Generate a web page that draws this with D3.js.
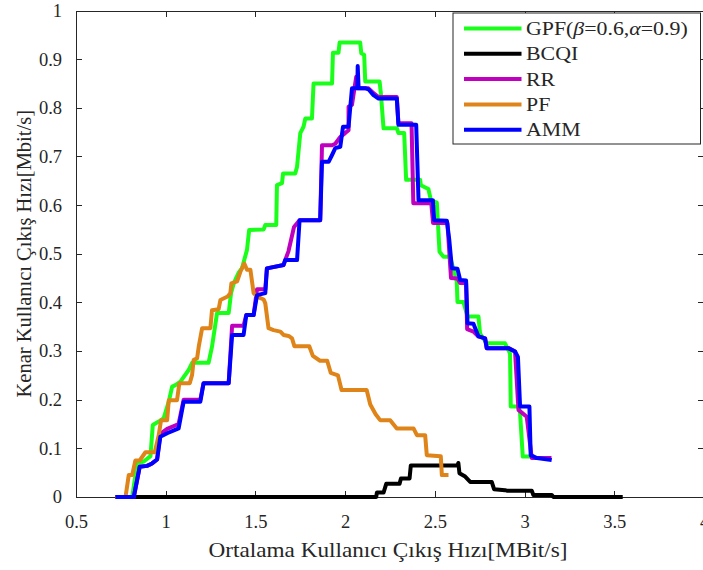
<!DOCTYPE html>
<html lang="tr">
<head>
  <meta charset="utf-8">
  <script src="https://d3js.org/d3.v7.min.js"></script>
  <style>
    body { margin: 0; background: #fff; }
    svg text { font-family: "Liberation Serif", "Times New Roman", serif; fill: #262626; }
    .axis path, .axis line { stroke: #262626; shape-rendering: crispEdges; }
  </style>
</head>
<body>
<svg id="chart" width="703" height="570"></svg>

<script>
  // Curves: [x, y] pairs
  const gpf = [[0.72,0],[0.813,0],[0.841,0.069],[0.878,0.073],[0.915,0.084],[0.928,0.148],[0.961,0.155],[0.989,0.162],[1.017,0.196],[1.036,0.227],[1.054,0.23],[1.082,0.237],[1.128,0.261],[1.147,0.276],[1.239,0.276],[1.258,0.309],[1.286,0.378],[1.351,0.378],[1.364,0.419],[1.379,0.439],[1.406,0.461],[1.425,0.47],[1.453,0.508],[1.465,0.549],[1.546,0.55],[1.555,0.559],[1.616,0.559],[1.62,0.641],[1.648,0.645],[1.654,0.665],[1.722,0.665],[1.732,0.679],[1.75,0.748],[1.768,0.761],[1.778,0.778],[1.815,0.778],[1.824,0.85],[1.927,0.85],[1.932,0.913],[1.963,0.913],[1.969,0.934],[2.084,0.934],[2.09,0.912],[2.106,0.909],[2.112,0.854],[2.192,0.854],[2.199,0.83],[2.214,0.758],[2.288,0.758],[2.297,0.748],[2.329,0.748],[2.34,0.652],[2.418,0.652],[2.422,0.641],[2.464,0.633],[2.478,0.61],[2.511,0.605],[2.526,0.504],[2.548,0.494],[2.585,0.494],[2.622,0.443],[2.626,0.401],[2.659,0.401],[2.682,0.371],[2.743,0.371],[2.752,0.336],[2.789,0.316],[2.891,0.316],[2.919,0.295],[2.923,0.186],[2.966,0.186],[2.975,0.172],[2.99,0.083],[3.031,0.083]];

  const bcqi = [[0.72,0],[2.173,0],[2.177,0.009],[2.214,0.009],[2.229,0.027],[2.303,0.027],[2.311,0.038],[2.359,0.038],[2.366,0.065],[2.626,0.065],[2.631,0.07],[2.637,0.049],[2.669,0.042],[2.697,0.031],[2.817,0.031],[2.83,0.016],[2.891,0.014],[2.901,0.013],[3.04,0.013],[3.049,0.004],[3.152,0.004],[3.161,0],[3.547,0]];

  const rr = [[0.72,0],[0.822,0],[0.855,0.062],[0.896,0.064],[0.924,0.069],[0.952,0.077],[0.97,0.13],[1.008,0.14],[1.072,0.15],[1.1,0.2],[1.193,0.2],[1.211,0.234],[1.351,0.234],[1.37,0.352],[1.434,0.352],[1.449,0.374],[1.49,0.374],[1.509,0.427],[1.555,0.427],[1.564,0.47],[1.657,0.477],[1.666,0.487],[1.684,0.505],[1.715,0.555],[1.746,0.569],[1.861,0.569],[1.871,0.723],[1.927,0.723],[1.945,0.726],[1.973,0.74],[2.0,0.748],[2.019,0.754],[2.019,0.802],[2.038,0.806],[2.062,0.864],[2.069,0.84],[2.115,0.84],[2.13,0.84],[2.158,0.83],[2.186,0.822],[2.288,0.822],[2.297,0.768],[2.37,0.768],[2.38,0.604],[2.48,0.604],[2.49,0.563],[2.57,0.563],[2.59,0.45],[2.626,0.449],[2.641,0.44],[2.674,0.44],[2.68,0.345],[2.715,0.34],[2.743,0.33],[2.78,0.326],[2.789,0.306],[2.91,0.306],[2.947,0.299],[2.966,0.179],[3.012,0.165],[3.04,0.08],[3.15,0.08]];

  const pf = [[0.72,0],[0.776,0],[0.794,0.045],[0.813,0.045],[0.831,0.075],[0.855,0.075],[0.887,0.092],[0.939,0.092],[0.961,0.127],[0.974,0.158],[1.008,0.158],[1.017,0.199],[1.063,0.199],[1.076,0.234],[1.134,0.234],[1.147,0.251],[1.156,0.282],[1.175,0.285],[1.184,0.309],[1.203,0.347],[1.249,0.347],[1.258,0.384],[1.295,0.386],[1.305,0.405],[1.345,0.412],[1.36,0.419],[1.366,0.439],[1.398,0.443],[1.416,0.463],[1.438,0.48],[1.453,0.467],[1.472,0.467],[1.49,0.419],[1.509,0.412],[1.546,0.406],[1.555,0.398],[1.573,0.347],[1.601,0.343],[1.639,0.34],[1.657,0.333],[1.685,0.331],[1.704,0.326],[1.717,0.31],[1.8,0.31],[1.82,0.29],[1.86,0.28],[1.9,0.28],[1.92,0.255],[1.96,0.25],[1.98,0.22],[2.12,0.22],[2.14,0.19],[2.17,0.17],[2.195,0.158],[2.251,0.158],[2.288,0.141],[2.381,0.141],[2.4,0.127],[2.446,0.127],[2.455,0.086],[2.533,0.084],[2.539,0.045],[2.576,0.045]];

  const amm = [[0.72,0],[0.822,0],[0.855,0.062],[0.896,0.064],[0.924,0.069],[0.952,0.077],[0.97,0.124],[1.008,0.131],[1.072,0.141],[1.1,0.196],[1.193,0.196],[1.211,0.234],[1.351,0.234],[1.37,0.333],[1.434,0.333],[1.449,0.374],[1.49,0.374],[1.509,0.415],[1.555,0.419],[1.564,0.47],[1.657,0.477],[1.666,0.487],[1.732,0.487],[1.746,0.569],[1.861,0.569],[1.871,0.689],[1.908,0.689],[1.927,0.703],[1.945,0.717],[1.973,0.72],[1.988,0.761],[2.019,0.761],[2.038,0.84],[2.068,0.84],[2.07,0.886],[2.075,0.84],[2.115,0.84],[2.13,0.838],[2.158,0.826],[2.186,0.819],[2.288,0.819],[2.297,0.765],[2.396,0.765],[2.409,0.61],[2.489,0.61],[2.496,0.569],[2.567,0.568],[2.58,0.53],[2.595,0.47],[2.626,0.469],[2.641,0.446],[2.674,0.445],[2.682,0.357],[2.715,0.356],[2.743,0.33],[2.78,0.326],[2.789,0.306],[2.91,0.306],[2.947,0.299],[2.963,0.288],[2.975,0.186],[3.027,0.186],[3.034,0.086],[3.068,0.08],[3.151,0.076]];

  const seriesNames = ["GPF", "BCQI", "RR", "PF", "AMM"];
  const seriesColors = ["#1aff1a", "#000000", "#bf00bf", "#df8418", "#0000ff"];
  const xTicks = [0.5, 1, 1.5, 2, 2.5, 3, 3.5, 4];
  const yTicks = [0, 0.1, 0.2, 0.3, 0.4, 0.5, 0.6, 0.7, 0.8, 0.9, 1];

  const svg = d3.select("#chart");

  // plot area (the right edge sits just past the window, like the original)
  const plotLeft = 76, plotRight = 704, plotTop = 10.5, plotBottom = 497;

  const x = d3.scaleLinear().domain([0.5, 4]).range([plotLeft, plotRight]);
  const y = d3.scaleLinear().domain([0, 1]).range([plotBottom, plotTop]);

  // box with inward ticks on all four sides
  svg.append("g").attr("class", "axis")
    .attr("transform", `translate(0,${plotBottom})`)
    .call(d3.axisBottom(x).tickValues(xTicks).tickSizeInner(-6).tickSizeOuter(0).tickPadding(18).tickFormat(d3.format("")))
    .call(g => g.selectAll("text").attr("font-size", 18.5).attr("fill", "#262626"));
  svg.append("g").attr("class", "axis")
    .attr("transform", `translate(0,${plotTop})`)
    .call(d3.axisTop(x).tickValues(xTicks).tickSizeInner(-6).tickSizeOuter(0).tickFormat(""));
  svg.append("g").attr("class", "axis")
    .attr("transform", `translate(${plotLeft},0)`)
    .call(d3.axisLeft(y).tickValues(yTicks).tickSizeInner(-6).tickSizeOuter(0).tickPadding(14).tickFormat(d3.format("")))
    .call(g => g.selectAll("text").attr("font-size", 18.5).attr("fill", "#262626"));
  svg.append("g").attr("class", "axis")
    .attr("transform", `translate(${plotRight},0)`)
    .call(d3.axisRight(y).tickValues(yTicks).tickSizeInner(-6).tickSizeOuter(0).tickFormat(""));
  svg.selectAll(".axis .domain").attr("stroke-width", 1);

  // axis titles
  svg.append("text")
    .attr("x", 388).attr("y", 557)
    .attr("text-anchor", "middle").attr("font-size", 21)
    .attr("textLength", 359).attr("lengthAdjust", "spacingAndGlyphs")
    .text("Ortalama Kullanıcı Çıkış Hızı[MBit/s]");
  svg.append("text")
    .attr("transform", `translate(31,${(plotTop + plotBottom) / 2}) rotate(-90)`)
    .attr("text-anchor", "middle").attr("font-size", 20.5)
    .text("Kenar Kullanıcı Çıkış Hızı[Mbit/s]");

  // the lines
  const line = d3.line().x(d => x(d[0])).y(d => y(d[1]));
  [gpf, bcqi, rr, pf, amm].forEach((data, i) => {
    svg.append("path")
      .datum(data)
      .attr("fill", "none")
      .attr("stroke", seriesColors[i])
      .attr("stroke-width", 4)
      .attr("stroke-linejoin", "round")
      .attr("d", line);
  });

  // legend
  const legend = svg.append("g").attr("transform", "translate(453,13)");
  legend.append("rect")
    .attr("width", 247.5).attr("height", 131)
    .attr("fill", "#fff").attr("stroke", "#262626").attr("stroke-width", 1);
  seriesNames.forEach((name, i) => {
    const rowY = 15.5 + i * 25.3;
    legend.append("line")
      .attr("x1", 11).attr("x2", 68.5).attr("y1", rowY).attr("y2", rowY)
      .attr("stroke", seriesColors[i]).attr("stroke-width", 4);
    // the original text is a little wider than the font, so stretch it
    const t = legend.append("text")
      .attr("transform", `translate(73,${rowY + 6.5}) scale(1.15,1)`)
      .attr("font-size", 19).attr("fill", "#000");
    if (i === 0) {
      t.append("tspan").text("GPF(");
      t.append("tspan").attr("font-style", "italic").text("β");
      t.append("tspan").text("=0.6,");
      t.append("tspan").attr("font-style", "italic").text("α");
      t.append("tspan").text("=0.9)");
    } else {
      t.text(name);
    }
  });
</script>
</body>
</html>
